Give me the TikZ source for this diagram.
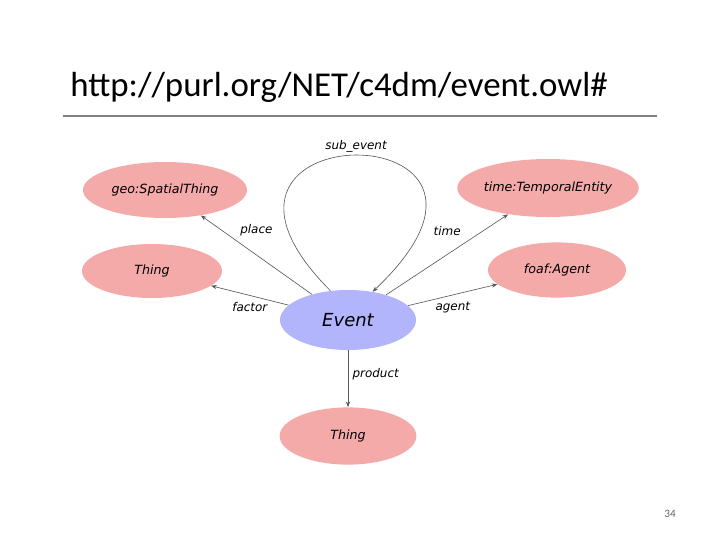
\documentclass[tikz,border=0pt]{standalone}
\usepackage{fontspec}
\setmainfont{DejaVu Sans}
\newfontfamily\titlefont{Carlito}
\usetikzlibrary{arrows.meta, positioning, shapes.geometric}

\definecolor{classpink}{RGB}{245,170,170}
\definecolor{eventblue}{RGB}{178,180,252}

\begin{document}
\begin{tikzpicture}[
  x=0.025cm, y=-0.025cm,
  cls/.style={ellipse, fill=classpink, inner sep=0pt, font=\fontsize{9}{10}\selectfont\itshape},
  evt/.style={ellipse, fill=eventblue, inner sep=0pt, minimum width=3.4cm, minimum height=1.5cm, font=\fontsize{12.8}{14}\selectfont\itshape},
  lbl/.style={font=\fontsize{8.5}{10}\selectfont\itshape, inner sep=1pt},
  arrow/.style={-{Stealth[length=4pt, width=3pt]}, draw=black!65, line width=0.45pt}
]
\useasboundingbox (0,0) rectangle (720,540);

% Heading and rule.
\node[anchor=west, inner sep=0pt, font=\titlefont\fontsize{24.8}{27}\selectfont] (Title) at (70,87) {http://purl.org/NET/c4dm/event.owl\#};
\draw[draw=black!50, line width=0.8pt] (63,116) coordinate (RuleL) -- (657,116) coordinate (RuleR);

% Central class.
\node[evt] (Event) at (348,320) {Event};

% Range classes.
\node[cls, minimum width=4.1cm, minimum height=1.4cm] (Spatial) at (165,190) {geo:SpatialThing};
\node[cls, minimum width=3.5cm, minimum height=1.35cm] (FactorThing) at (152,271) {Thing};
\node[cls, minimum width=3.8cm, minimum height=1.45cm] (Temporal) at (548,188) {time:TemporalEntity};
\node[cls, minimum width=3.45cm, minimum height=1.38cm] (Agent) at (557,270) {foaf:Agent};
\node[cls, minimum width=3.42cm, minimum height=1.43cm] (ProductThing) at (348,436) {Thing};

% Properties.
\draw[arrow] (Event) -- node[lbl, above=12pt] (PlaceLbl) {place} (Spatial);
\draw[arrow] (Event) -- node[lbl, below=4pt] (FactorLbl) {factor} (FactorThing);
\draw[arrow] (Event) -- node[lbl, above=12pt] (TimeLbl) {time} (Temporal);
\draw[arrow] (Event) -- node[lbl, below=4pt] (AgentLbl) {agent} (Agent);
\draw[arrow] (Event) -- node[lbl, right=2pt, yshift=3pt] (ProductLbl) {product} (ProductThing);
\draw[arrow] (Event.121) .. controls (150,110) and (565,110) .. node[lbl, above=1pt] (SubLbl) {sub\_event} (Event.49);

% Page number.
\node[font=\titlefont\fontsize{8}{9}\selectfont, text=black!60] (PageNo) at (670,514) {34};
\end{tikzpicture}
\end{document}
